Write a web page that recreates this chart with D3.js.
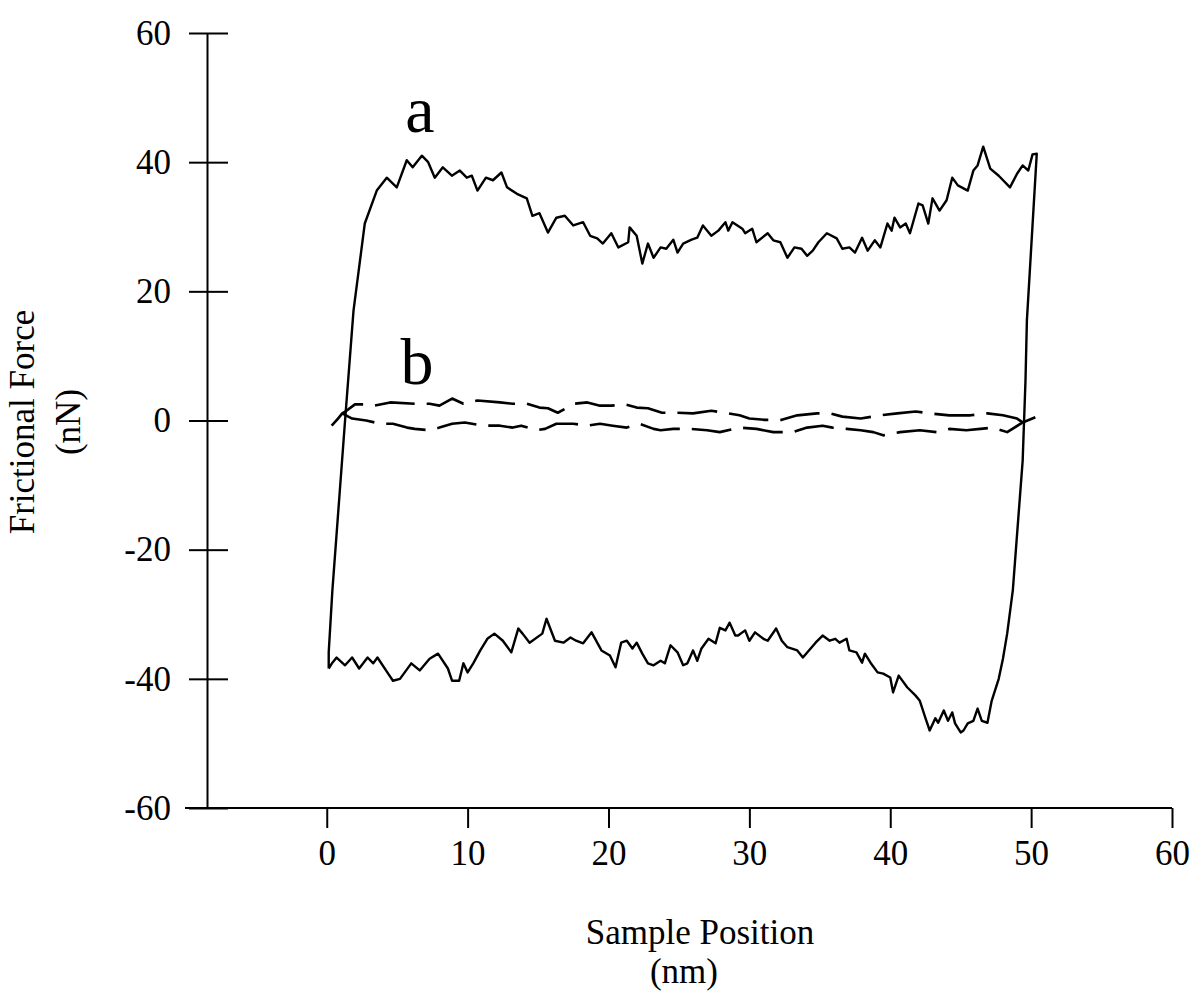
<!DOCTYPE html>
<html>
<head>
<meta charset="utf-8">
<script src="https://cdn.jsdelivr.net/npm/d3@7/dist/d3.min.js"></script>
<style>
  body { margin: 0; background: #fff; }
  svg { display: block; background: #fff; }
  text { font-family: "Liberation Serif", "Times New Roman", serif; fill: #000; }
</style>
</head>
<body>
<div id="chart"></div>
<script>
// ticks
const xTicks = [0, 10, 20, 30, 40, 50, 60];
const yTicks = [-60, -40, -20, 0, 20, 40, 60];

// curve a: one closed friction loop, [position nm, force nN]
const curveA = [
  [0.14, -38.4], [0.14, -35.9], [0.4, -26.3], [1.3, 0], [1.9, 17], [2.7, 30.5],
  [3.55, 35.6], [4.26, 37.6], [4.97, 36.1], [5.68, 40.3], [6.1, 39.2], [6.75, 41.0], [7.2, 40],
  [7.67, 37.6], [8.24, 39.2], [8.88, 37.9], [9.45, 38.7], [9.94, 37.6], [10.3, 37.9], [10.7, 35.6],
  [11.3, 37.6], [11.8, 37.2], [12.4, 38.4], [12.8, 36.1], [13.5, 35.1], [14.2, 34.4], [14.6, 31.7],
  [15.1, 32.1], [15.7, 29.1], [16.3, 31.4], [16.9, 31.7], [17.5, 30.2], [18.2, 30.7], [18.7, 28.6],
  [19.2, 28.2], [19.6, 27.4], [20.2, 29.0], [20.7, 26.8], [21.4, 27.6], [21.5, 29.9], [22.0, 28.6],
  [22.4, 24.3], [22.8, 27.4], [23.2, 25.2], [23.7, 26.8], [24.1, 26.6], [24.6, 28.0], [24.9, 26.0],
  [25.3, 27.4], [25.9, 28.0], [26.3, 28.3], [26.7, 30.2], [27.3, 28.6], [27.8, 29.4], [28.3, 30.7],
  [28.5, 29.4], [28.8, 30.7], [29.5, 29.7], [29.7, 29.0], [30.2, 29.7], [30.5, 27.6], [31.3, 29.0],
  [31.7, 27.9], [32.2, 27.6], [32.7, 25.2], [33.2, 26.8], [33.7, 26.6], [34.1, 25.5], [34.5, 26.3],
  [34.9, 27.6], [35.5, 29.0], [36.2, 28.2], [36.6, 26.6], [37.1, 26.8], [37.5, 26.0], [38.0, 28.3],
  [38.4, 26.3], [38.9, 27.9], [39.3, 26.8], [39.8, 30.5], [40.1, 29.4], [40.3, 31.4], [40.7, 29.9],
  [41.1, 30.5], [41.4, 29.0], [42.0, 33.6], [42.3, 33.3], [42.7, 30.5], [43.0, 34.4], [43.5, 32.5],
  [44.0, 34.1], [44.4, 37.6], [44.8, 36.4], [45.5, 35.6], [45.9, 38.7], [46.2, 39.5], [46.6, 42.4],
  [47.1, 39.0], [47.7, 37.9], [48.5, 36.1], [49.0, 38.2], [49.4, 39.5], [49.8, 38.7], [50.1, 41.2],
  [50.4, 41.3],
  [49.7, 15.5], [49.6, 6.2], [49.4, -6.2], [48.7, -26.3], [48.3, -33], [48.0, -36.9], [47.7, -40],
  [47.2, -43.4], [46.9, -46.8],
  [46.5, -46.5], [46.2, -44.6], [45.9, -46.5], [45.5, -46.9], [45.2, -48.0], [45.0, -48.3],
  [44.6, -46.9], [44.4, -45.2], [44.1, -46.5], [43.8, -44.9], [43.4, -46.8], [43.2, -46.1],
  [42.8, -48.0], [42.5, -46.1], [42.1, -43.4], [41.8, -42.6], [41.2, -41.3], [40.6, -39.5],
  [40.2, -42.1], [40.0, -39.8], [39.5, -39.2], [39.1, -39.0], [38.6, -37.5], [38.2, -36.1],
  [38.0, -37.5], [37.6, -35.9], [37.1, -35.6], [36.9, -33.8], [36.4, -34.4], [36.1, -33.8],
  [35.7, -34.1], [35.2, -33.3], [34.7, -34.4], [33.8, -36.7], [33.4, -35.6], [32.7, -35.1],
  [32.3, -34.1], [31.9, -32.2], [31.3, -34.1], [31.0, -33.8], [30.4, -32.8], [30.0, -34.1],
  [29.7, -32.5], [29.2, -33.3], [29.0, -33.3], [28.6, -31.3], [28.3, -32.5], [27.9, -32.1],
  [27.6, -34.5], [27.1, -33.8], [26.6, -35.3], [26.3, -37.2], [26.0, -35.6], [25.6, -37.6],
  [25.3, -37.9], [24.9, -35.9], [24.4, -34.8], [24.0, -37.6], [23.7, -37.2], [23.2, -37.9],
  [22.8, -37.6], [22.4, -36.1], [22.0, -34.4], [21.7, -35.3], [21.3, -34.1], [20.9, -34.4],
  [20.5, -38.2], [20.1, -36.4], [19.5, -35.6], [18.8, -32.8], [18.2, -34.5], [17.7, -34.1],
  [17.3, -33.6], [16.8, -34.4], [16.2, -34.1], [15.6, -30.7], [15.3, -33.0], [14.4, -34.4],
  [13.9, -33.0], [13.6, -32.2], [13.1, -35.9], [12.5, -34.1], [11.9, -33.0], [11.4, -33.8],
  [10.9, -35.6], [10.4, -37.6], [10.0, -39.0], [9.7, -37.6], [9.4, -40.3], [8.9, -40.3],
  [8.6, -38.4], [7.9, -36.1], [7.3, -36.9], [6.6, -38.7], [6.0, -37.6], [5.2, -40.0], [4.7, -40.3],
  [4.3, -39.0], [3.6, -36.7], [3.3, -37.6], [2.9, -36.7], [2.3, -38.4], [1.8, -36.7], [1.3, -37.9],
  [0.7, -36.7], [0.4, -37.5], [0.14, -38.4]
];

// curve b: upper (trace) and lower (retrace) halves
const curveBUpper = [
  [0.35, -0.8], [0.8, 0.3], [1.1, 1.1], [1.4, 1.5], [2.0, 2.5], [2.8, 2.5], [3.4, 2.3], [4.5, 2.8],
  [6.25, 2.6], [7.3, 2.6], [8.0, 2.3], [8.9, 3.4], [9.7, 2.6], [10.7, 3.1], [12.3, 2.8], [13.2, 2.6],
  [14.2, 2.6], [15.1, 2.0], [15.7, 1.9], [16.4, 1.2], [17.6, 2.6], [18.5, 2.8], [19.4, 2.3],
  [20.2, 2.3], [21.2, 2.5], [22.0, 2.0], [22.8, 1.9], [23.8, 1.2], [24.9, 1.2], [26.0, 1.1],
  [27.3, 1.5], [28.3, 1.2], [29.3, 0.8], [30.0, 0.3], [31.1, 0.1], [32.3, 0.1], [33.4, 0.8],
  [34.8, 1.1], [35.7, 1.1], [36.6, 0.6], [37.9, 0.3], [39.3, 0.8], [40.5, 1.1], [41.8, 1.4],
  [42.8, 1.1], [44.2, 0.8], [45.7, 0.8], [46.9, 1.1], [48.0, 0.8], [49.0, 0.3], [49.4, -0.3]
];
const curveBLower = [
  [50.3, 0.5], [49.4, -0.3], [48.3, -1.8], [47.3, -1.1], [46.4, -1.3], [45.4, -1.5], [44.2, -1.3],
  [43.3, -1.8], [42.1, -1.5], [40.7, -1.8], [39.5, -2.3], [38.8, -1.8], [37.9, -1.5], [36.9, -1.3],
  [35.9, -1.1], [35.2, -0.8], [34.1, -1.1], [33.1, -1.8], [31.7, -1.8], [30.5, -1.3], [29.3, -1.1],
  [27.9, -1.8], [27.0, -1.5], [25.8, -1.3], [24.6, -1.3], [23.7, -1.5], [23.2, -1.3], [22.2, -0.5],
  [21.3, -1.1], [20.3, -0.8], [19.4, -0.5], [18.5, -0.8], [17.5, -0.5], [16.3, -0.5], [15.5, -1.3],
  [14.9, -1.5], [13.8, -0.8], [13.2, -1.1], [12.3, -0.8], [11.1, -0.8], [9.8, -0.3], [8.9, -0.5],
  [8.0, -1.1], [7.3, -1.5], [6.25, -1.3], [5.7, -1.1], [4.7, -0.5], [3.8, -0.5], [2.8, 0.0],
  [1.8, 0.3], [1.1, 1.1]
];

const width = 1198;
const height = 995;
const xMin = -8.5;
const fontSize = '35px';

const svg = d3.select('#chart')
  .append('svg')
  .attr('width', width)
  .attr('height', height);

const x = d3.scaleLinear().domain([xMin, 60]).range([207, 1172]);
const y = d3.scaleLinear().domain([-60, 60]).range([808, 33]);

// y axis with ticks crossing the line
const yAxis = svg.append('g')
  .attr('transform', `translate(${x(xMin)},0)`)
  .call(d3.axisLeft(y).tickValues(yTicks).tickSize(18).tickSizeOuter(0).tickPadding(18).tickFormat(d => String(d)));
yAxis.selectAll('.tick').append('line').attr('x2', 21).attr('stroke', '#000');

// x axis, line runs a little past the y axis
const xAxis = svg.append('g')
  .attr('transform', `translate(0,${y(-60)})`)
  .call(d3.axisBottom(x).tickValues(xTicks).tickSize(20).tickSizeOuter(0).tickPadding(12).tickFormat(d => String(d)));
xAxis.select('.domain').attr('d', `M${x(xMin) - 22},0H${x(60)}`);

svg.selectAll('.domain, .tick line')
  .attr('stroke', '#000')
  .attr('stroke-width', 2);
svg.selectAll('.tick text')
  .style('font-family', '"Liberation Serif", serif')
  .style('font-size', fontSize);

const line = d3.line()
  .x(d => x(d[0]))
  .y(d => y(d[1]));

svg.append('path')
  .datum(curveA)
  .attr('d', line)
  .attr('fill', 'none')
  .attr('stroke', '#000')
  .attr('stroke-width', 2.4)
  .attr('stroke-linejoin', 'round');

[curveBUpper, curveBLower].forEach(c => {
  svg.append('path')
    .datum(c)
    .attr('d', line)
    .attr('fill', 'none')
    .attr('stroke', '#000')
    .attr('stroke-width', 2.6)
    .attr('stroke-dasharray', '40,12')
    .attr('stroke-linejoin', 'round');
});

// curve labels
svg.append('text')
  .attr('x', 420).attr('y', 132)
  .attr('text-anchor', 'middle')
  .style('font-size', '66px')
  .text('a');
svg.append('text')
  .attr('x', 417).attr('y', 384)
  .attr('text-anchor', 'middle')
  .style('font-size', '66px')
  .text('b');

// axis titles
svg.append('text')
  .attr('transform', 'translate(34,422) rotate(-90)')
  .attr('text-anchor', 'middle')
  .style('font-size', fontSize)
  .text('Frictional Force');
svg.append('text')
  .attr('transform', 'translate(80,422) rotate(-90)')
  .attr('text-anchor', 'middle')
  .style('font-size', fontSize)
  .text('(nN)');

svg.append('text')
  .attr('x', 700).attr('y', 944)
  .attr('text-anchor', 'middle')
  .style('font-size', fontSize)
  .text('Sample Position');
svg.append('text')
  .attr('x', 684).attr('y', 983)
  .attr('text-anchor', 'middle')
  .style('font-size', fontSize)
  .text('(nm)');
</script>
</body>
</html>
